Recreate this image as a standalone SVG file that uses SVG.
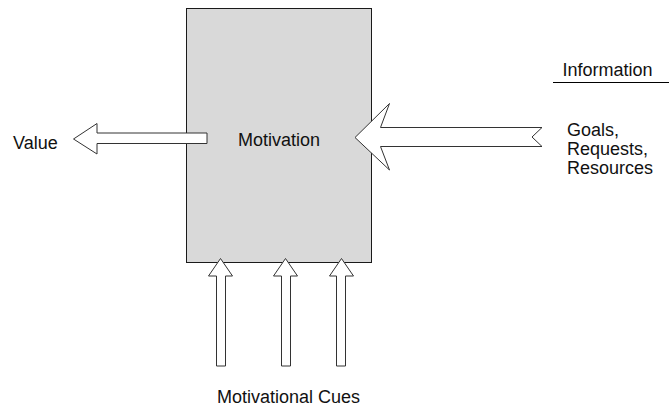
<svg xmlns="http://www.w3.org/2000/svg" width="669" height="410" viewBox="0 0 669 410">
  <style>
    .lbl { font-family: "Liberation Sans", Arial, sans-serif; font-size: 18px; fill: #111; }
    .box { fill: #d9d9d9; stroke: #1a1a1a; stroke-width: 1; }
    .arrow { fill: #fff; stroke: #333; stroke-width: 1; stroke-linejoin: miter; }
    .rule { stroke: #000; stroke-width: 1; }
  </style>

  <rect width="669" height="410" fill="#fff"/>

  <g id="motivation">
    <rect class="box" x="186.5" y="8.5" width="185" height="254"/>
    <text class="lbl" x="279" y="145.5" text-anchor="middle">Motivation</text>
  </g>

  <g id="connectors">
    <!-- outgoing value arrow -->
    <polygon class="arrow" points="73.5,139 97,123.5 97,133 207,133 207,143.5 97,143.5 97,154"/>
    <!-- incoming information arrow with notched tail -->
    <polygon class="arrow" points="355,137.5 389.5,103.5 380.5,127.5 542,127.5 532,137 542,146.5 380.5,146.5 389.5,170"/>
    <!-- motivational cue arrows -->
    <polygon class="arrow" points="220.5,258.5 232.5,276 225.5,276 225.5,366 216.5,366 216.5,276 208.5,276"/>
    <polygon class="arrow" points="285.5,258.5 297.5,276 290.5,276 290.5,366 281.5,366 281.5,276 273.5,276"/>
    <polygon class="arrow" points="341.5,258.5 353.5,276 345.5,276 345.5,366 336.5,366 336.5,276 329.5,276"/>
  </g>

  <g id="value">
    <text class="lbl" x="13" y="149">Value</text>
  </g>

  <g id="information">
    <text class="lbl" x="562.5" y="76">Information</text>
    <line class="rule" x1="553" y1="82.5" x2="669" y2="82.5"/>
    <text class="lbl" x="567" y="136">Goals,</text>
    <text class="lbl" x="567" y="155">Requests,</text>
    <text class="lbl" x="567" y="174">Resources</text>
  </g>

  <g id="cues">
    <text class="lbl" x="288.5" y="403" text-anchor="middle">Motivational Cues</text>
  </g>
</svg>
